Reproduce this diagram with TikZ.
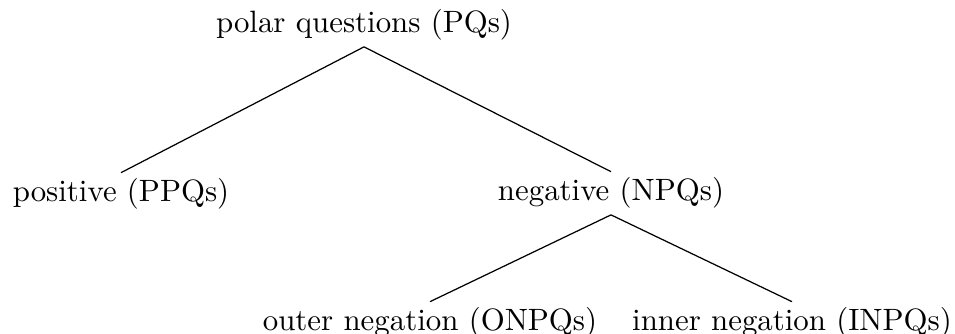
\documentclass[tikz,border=0pt]{standalone}
\usepackage{tikz}

\begin{document}
\begin{tikzpicture}[x=0.324pt,y=-0.324pt,
  leaf/.style={anchor=base,inner xsep=0pt,inner ysep=1.8pt}]
\useasboundingbox (0,0) rectangle (955,334);
\node[leaf] (pq) at (364,33) {polar questions (PQs)};
\node[leaf] (ppq) at (121,202) {positive (PPQs)};
\node[leaf] (npq) at (611,201) {negative (NPQs)};
\node[leaf] (onpq) at (430,331) {outer negation (ONPQs)};
\node[leaf] (inpq) at (792,331) {inner negation (INPQs)};

\draw (pq.south) -- (ppq.north);
\draw (pq.south) -- (npq.north);
\draw (npq.south) -- (onpq.north);
\draw (npq.south) -- (inpq.north);
\end{tikzpicture}
\end{document}
